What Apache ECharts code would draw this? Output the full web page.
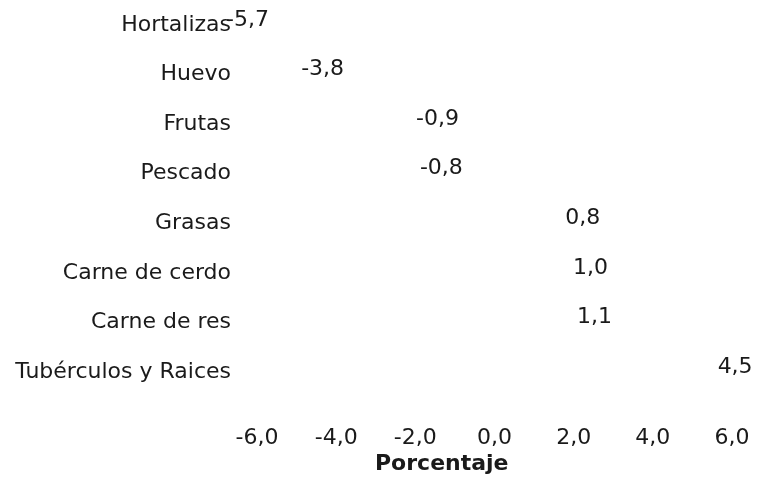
<!DOCTYPE html>
<html>
<head>
<meta charset="utf-8">
<script src="https://cdn.jsdelivr.net/npm/echarts@6/dist/echarts.min.js"></script>
<style>
  html, body { margin: 0; padding: 0; background: #fff; }
  #chart { width: 773px; height: 483px; }
</style>
</head>
<body>
<div id="chart"></div>
<script>
var categories = ['Hortalizas', 'Huevo', 'Frutas', 'Pescado', 'Grasas', 'Carne de cerdo', 'Carne de res', 'Tubérculos y Raices'];
var values = [-5.7, -3.8, -0.9, -0.8, 0.8, 1.0, 1.1, 4.5];
var axisTitle = 'Porcentaje';

function fmt(v) {
  return v.toFixed(1).replace('.', ',');
}

var chart = echarts.init(document.getElementById('chart'));
var font = 'DejaVu Sans';
var fs = 22;
var txt = '#1a1a1a';

var barData = values.map(function (v) {
  return {
    value: v,
    label: v < 0
      ? {position: 'left', distance: 0, offset: [0, -5]}
      : {position: 'right', distance: 0, offset: [v > 3 ? 45 : 39, -5]}
  };
});

var option = {
  animation: false,
  graphic: [{
    type: 'text',
    left: 375,
    top: 453,
    style: {text: axisTitle, font: 'bold ' + fs + 'px "' + font + '"', fill: txt}
  }],
  grid: {left: 257, right: 41, top: -3, height: 400},
  xAxis: {
    type: 'value',
    min: -6,
    max: 6,
    interval: 2,
    splitLine: {show: false},
    axisLine: {show: false},
    axisTick: {show: false},
    axisLabel: {
      margin: 30,
      fontFamily: font,
      fontSize: fs,
      color: txt,
      formatter: function (v) { return fmt(v); }
    }
  },
  yAxis: {
    type: 'category',
    inverse: true,
    data: categories,
    axisLine: {show: false},
    axisTick: {show: false},
    splitLine: {show: false},
    axisLabel: {margin: 26, fontFamily: font, fontSize: fs, color: txt}
  },
  series: [{
    type: 'bar',
    data: barData,
    barWidth: '50%',
    itemStyle: {color: 'rgba(0,0,0,0)'},
    label: {
      show: true,
      fontFamily: font,
      fontSize: fs,
      color: txt,
      formatter: function (p) { return fmt(p.value); }
    }
  }]
};

chart.setOption(option);
</script>
</body>
</html>
